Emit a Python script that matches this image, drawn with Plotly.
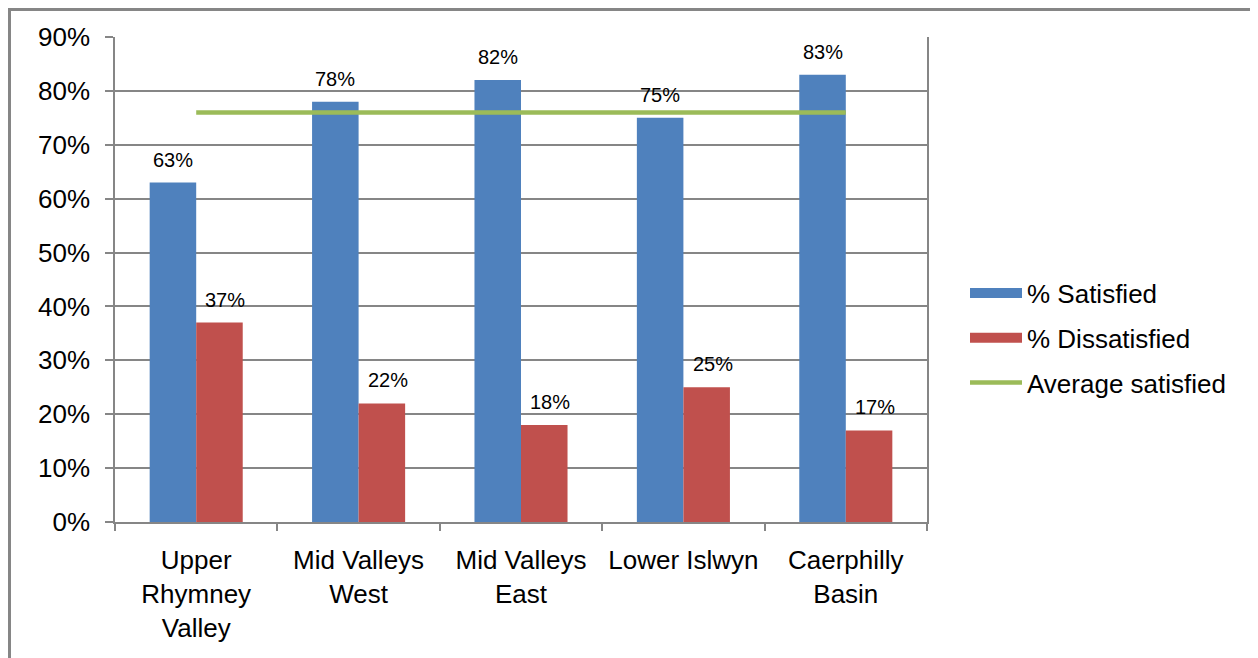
import plotly.graph_objects as go

categories = ["Upper<br>Rhymney<br>Valley", "Mid Valleys<br>West", "Mid Valleys<br>East",
              "Lower Islwyn", "Caerphilly<br>Basin"]
satisfied = [63, 78, 82, 75, 83]
dissatisfied = [37, 22, 18, 25, 17]
average_satisfied = [76, 76, 76, 76, 76]
y_ticks = [0, 10, 20, 30, 40, 50, 60, 70, 80, 90]

BLUE = "#4F81BD"
RED = "#C0504D"
GREEN = "#9BBB59"
GRAY = "#868686"
FONT = "Liberation Sans, Arial, sans-serif"

OFF = 8  # page body margin in the browser
W, H = 1258 - OFF, 658 - OFF
L, T = 115 - OFF, 37 - OFF
R = W - (927 - OFF)
B = H - (522 - OFF)
pw, ph = W - L - R, H - T - B

fig = go.Figure()
fig.add_trace(go.Bar(x=categories, y=satisfied, name="% Satisfied", showlegend=False,
                     marker=dict(color=BLUE, line=dict(width=0))))
fig.add_trace(go.Bar(x=categories, y=dissatisfied, name="% Dissatisfied", showlegend=False,
                     marker=dict(color=RED, line=dict(width=0))))
fig.add_trace(go.Scatter(x=categories, y=average_satisfied, name="Average satisfied",
                         mode="lines", line=dict(color=GREEN, width=4.5), showlegend=False))

# legend entries (wide swatches as in the original)
fig.add_trace(go.Scatter(x=[categories[0]], y=[None], name="% Satisfied", mode="lines",
                         line=dict(color=BLUE, width=14), legendgroup="a", hoverinfo="skip"))
fig.add_trace(go.Scatter(x=[categories[0]], y=[None], name="% Dissatisfied", mode="lines",
                         line=dict(color=RED, width=14), legendgroup="b", hoverinfo="skip"))
fig.add_trace(go.Scatter(x=[categories[0]], y=[None], name="Average satisfied", mode="lines",
                         line=dict(color=GREEN, width=4.5), legendgroup="c", hoverinfo="skip"))

half = pw / 5 * (1 - 0.427) / 4
annotations = []
for c, v in zip(categories, satisfied):
    annotations.append(dict(x=c, y=v, xref="x", yref="y", text=f"{v}%", showarrow=False,
                            xshift=-half, yshift=10, yanchor="bottom",
                            font=dict(size=20, color="black", family=FONT)))
for c, v in zip(categories, dissatisfied):
    annotations.append(dict(x=c, y=v, xref="x", yref="y", text=f"{v}%", showarrow=False,
                            xshift=half + 6, yshift=10, yanchor="bottom",
                            font=dict(size=20, color="black", family=FONT)))

def px_to_paper_x(p):
    # p in reference-image pixels
    return (p - OFF - L) / pw

def px_to_paper_y(p):
    return (H - B - (p - OFF)) / ph

fig.update_layout(
    width=W, height=H,
    margin=dict(l=L, r=R, t=T, b=B, autoexpand=False),
    paper_bgcolor="white", plot_bgcolor="white",
    font=dict(family=FONT, size=26, color="black"),
    barmode="group", bargap=0.427, bargroupgap=0,
    showlegend=True,
    legend=dict(x=px_to_paper_x(965), y=px_to_paper_y(338), xanchor="left", yanchor="middle",
                font=dict(size=26, family=FONT), traceorder="grouped",
                tracegroupgap=8, itemwidth=52, bgcolor="rgba(0,0,0,0)"),
    xaxis=dict(type="category", showgrid=False, showline=True, linecolor=GRAY, linewidth=1.5,
               ticks="outside", tickson="boundaries", ticklen=7, tickcolor=GRAY, tickwidth=1.5,
               tickfont=dict(size=26, family=FONT), ticklabelstandoff=14),
    yaxis=dict(range=[0, 90], tickvals=y_ticks, ticktext=[f"{t}%" for t in y_ticks],
               showgrid=True, gridcolor=GRAY, gridwidth=1.5,
               showline=True, linecolor=GRAY, linewidth=1.5, mirror=True,
               ticks="outside", ticklen=8, tickcolor=GRAY, tickwidth=1.5,
               tickfont=dict(size=26, family=FONT), ticklabelstandoff=10, zeroline=False),
    annotations=annotations,
    shapes=[dict(type="rect", xref="paper", yref="paper",
                 x0=px_to_paper_x(9.5), x1=px_to_paper_x(1255.5),
                 y0=px_to_paper_y(670), y1=px_to_paper_y(9.5),
                 line=dict(color=GRAY, width=3), fillcolor="rgba(0,0,0,0)", layer="above")],
)

fig.write_html("out.html")
